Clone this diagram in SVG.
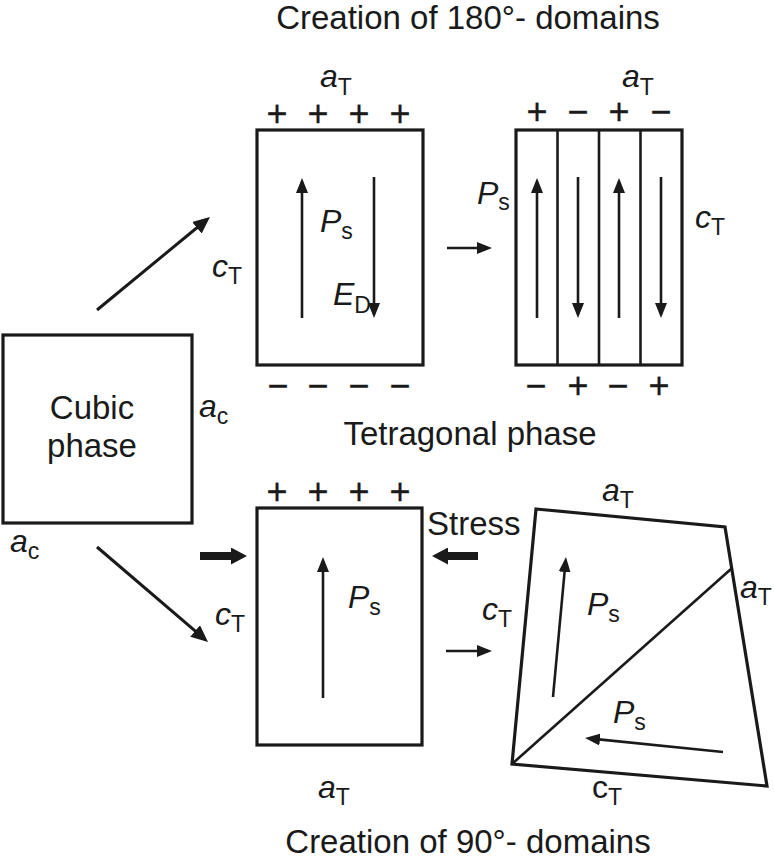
<svg xmlns="http://www.w3.org/2000/svg" width="775" height="860" viewBox="0 0 775 860">
<style>
  text { font-family: "Liberation Sans", Arial, sans-serif; fill: #1a1a1a; }
  .title { font-size: 33px; }
  .lbl { font-size: 32px; }
  .it { font-style: italic; }
  .sub { font-size: 23px; font-style: normal; }
  .sign { font-size: 36px; text-anchor: middle; stroke: #1a1a1a; stroke-width: 0.3; }
  .box { fill: none; stroke: #1a1a1a; stroke-width: 3.2; stroke-linejoin: miter; }
  .ln { fill: none; stroke: #1a1a1a; stroke-width: 2.6; }
  .arr { fill: none; stroke: #1a1a1a; stroke-width: 2.6; marker-end: url(#ah); }
  .arrL { fill: none; stroke: #1a1a1a; stroke-width: 3; marker-end: url(#ahL); }
  .arrT { fill: none; stroke: #1a1a1a; stroke-width: 8; marker-end: url(#ahT); }
</style>
<defs>
  <marker id="ah" markerUnits="userSpaceOnUse" markerWidth="15" markerHeight="12" refX="11" refY="6" orient="auto">
    <path d="M0,0 L15,6 L0,12 z" fill="#1a1a1a"/>
  </marker>
  <marker id="ahL" markerUnits="userSpaceOnUse" markerWidth="17" markerHeight="15" refX="13" refY="7.5" orient="auto">
    <path d="M0,0 L17,7.5 L0,15 z" fill="#1a1a1a"/>
  </marker>
  <marker id="ahT" markerUnits="userSpaceOnUse" markerWidth="16" markerHeight="17" refX="8" refY="8.5" orient="auto">
    <path d="M0,0 L16,8.5 L0,17 z" fill="#1a1a1a"/>
  </marker>
</defs>

<g id="title-180">
  <text class="title" x="468" y="29" text-anchor="middle">Creation of 180°- domains</text>
</g>

<g id="cubic-phase">
  <rect class="box" x="3" y="335" width="189" height="188"/>
  <text class="title" x="92" y="419" text-anchor="middle">Cubic</text>
  <text class="title" x="92" y="457" text-anchor="middle">phase</text>
  <text class="lbl" x="199" y="417"><tspan class="it">a</tspan><tspan class="sub" dy="7">c</tspan></text>
  <text class="lbl" x="10" y="552"><tspan class="it">a</tspan><tspan class="sub" dy="7">c</tspan></text>
</g>

<g id="tetragonal-single">
  <rect class="box" x="257" y="130" width="166" height="235"/>
  <text class="lbl" x="320" y="87"><tspan class="it">a</tspan><tspan class="sub" dy="8">T</tspan></text>
  <text class="sign" x="277" y="126">+</text>
  <text class="sign" x="318" y="126">+</text>
  <text class="sign" x="359" y="126">+</text>
  <text class="sign" x="400" y="126">+</text>
  <text class="sign" x="278" y="398">−</text>
  <text class="sign" x="318" y="398">−</text>
  <text class="sign" x="359" y="398">−</text>
  <text class="sign" x="400" y="398">−</text>
  <text class="lbl" x="212" y="277"><tspan class="it">c</tspan><tspan class="sub" dy="7">T</tspan></text>
  <line class="arr" x1="302" y1="318" x2="302" y2="182"/>
  <line class="arr" x1="374" y1="177" x2="374" y2="314"/>
  <text class="lbl" x="320" y="232"><tspan class="it">P</tspan><tspan class="sub" dy="7">s</tspan></text>
  <text class="lbl" x="333" y="305"><tspan class="it">E</tspan><tspan class="sub" dy="8">D</tspan></text>
</g>

<g id="tetragonal-180-domains">
  <rect class="box" x="516" y="130" width="166" height="235"/>
  <line class="ln" x1="557.5" y1="130" x2="557.5" y2="365"/>
  <line class="ln" x1="599" y1="130" x2="599" y2="365"/>
  <line class="ln" x1="640.5" y1="130" x2="640.5" y2="365"/>
  <text class="lbl" x="622" y="87"><tspan class="it">a</tspan><tspan class="sub" dy="8">T</tspan></text>
  <text class="sign" x="537" y="124">+</text>
  <text class="sign" x="578" y="124">−</text>
  <text class="sign" x="619" y="124">+</text>
  <text class="sign" x="661" y="124">−</text>
  <text class="sign" x="536" y="398">−</text>
  <text class="sign" x="578" y="398">+</text>
  <text class="sign" x="618" y="398">−</text>
  <text class="sign" x="659" y="398">+</text>
  <line class="arr" x1="537" y1="318" x2="537" y2="182"/>
  <line class="arr" x1="578" y1="177" x2="578" y2="314"/>
  <line class="arr" x1="619" y1="318" x2="619" y2="182"/>
  <line class="arr" x1="661" y1="177" x2="661" y2="314"/>
  <text class="lbl" x="477" y="204"><tspan class="it">P</tspan><tspan class="sub" dy="6">s</tspan></text>
  <text class="lbl" x="695" y="228"><tspan class="it">c</tspan><tspan class="sub" dy="7">T</tspan></text>
</g>

<g id="tetragonal-label">
  <text class="title" x="470" y="445" text-anchor="middle">Tetragonal phase</text>
</g>

<g id="tetragonal-stressed">
  <rect class="box" x="257" y="508" width="165" height="237"/>
  <text class="sign" x="277" y="504">+</text>
  <text class="sign" x="318" y="504">+</text>
  <text class="sign" x="359" y="504">+</text>
  <text class="sign" x="400" y="504">+</text>
  <line class="arr" x1="323" y1="698" x2="323" y2="561"/>
  <text class="lbl" x="348" y="608"><tspan class="it">P</tspan><tspan class="sub" dy="7">s</tspan></text>
  <text class="lbl" x="215" y="625"><tspan class="it">c</tspan><tspan class="sub" dy="7">T</tspan></text>
  <text class="lbl" x="318" y="798"><tspan class="it">a</tspan><tspan class="sub" dy="7">T</tspan></text>
  <text class="title" x="427" y="535">Stress</text>
</g>

<g id="tetragonal-90-domains">
  <polygon class="box" points="536,509 725,527 767,786 512,764"/>
  <line class="ln" x1="512" y1="764" x2="731" y2="569"/>
  <line class="arr" x1="553" y1="697" x2="565.6" y2="561"/>
  <line class="arr" x1="723" y1="752" x2="589" y2="738.4"/>
  <text class="lbl" x="587" y="615"><tspan class="it">P</tspan><tspan class="sub" dy="7">s</tspan></text>
  <text class="lbl" x="613" y="723"><tspan class="it">P</tspan><tspan class="sub" dy="7">s</tspan></text>
  <text class="lbl" x="602" y="501"><tspan class="it">a</tspan><tspan class="sub" dy="7">T</tspan></text>
  <text class="lbl" x="740" y="598"><tspan class="it">a</tspan><tspan class="sub" dy="7">T</tspan></text>
  <text class="lbl" x="482" y="620"><tspan class="it">c</tspan><tspan class="sub" dy="7">T</tspan></text>
  <text class="lbl" x="592" y="798">c<tspan class="sub" dy="7">T</tspan></text>
</g>

<g id="title-90">
  <text class="title" x="468" y="853" text-anchor="middle">Creation of 90°- domains</text>
</g>

<g id="connectors">
  <line class="arrL" x1="97" y1="310" x2="206.9" y2="219.5"/>
  <line class="arrL" x1="97" y1="547" x2="205" y2="639.4"/>
  <line class="arr" x1="447" y1="248" x2="488" y2="248"/>
  <line class="arr" x1="446" y1="651" x2="488" y2="651"/>
  <line class="arrT" x1="200" y1="556" x2="239" y2="556"/>
  <line class="arrT" x1="478" y1="556" x2="440" y2="556"/>
</g>
</svg>
